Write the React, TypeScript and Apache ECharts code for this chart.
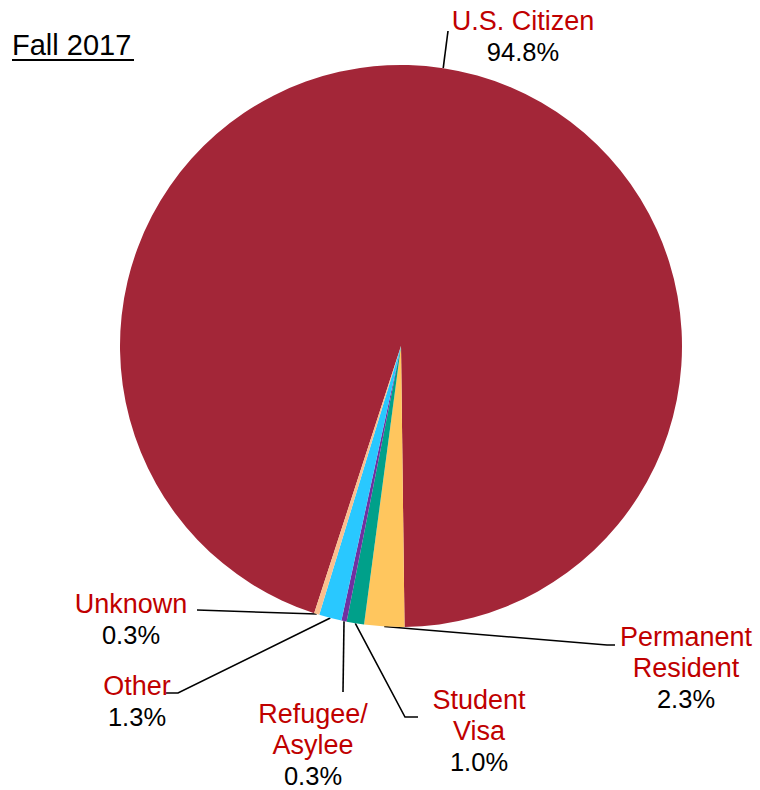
import React, { useEffect, useRef } from "react";
import * as echarts from "echarts";

const categories = ["U.S. Citizen", "Permanent Resident", "Student Visa", "Refugee/Asylee", "Other", "Unknown"];
const displayNames = [["U.S. Citizen"], ["Permanent", "Resident"], ["Student", "Visa"], ["Refugee/", "Asylee"], ["Other"], ["Unknown"]];
const values = [94.8, 2.3, 1.0, 0.3, 1.3, 0.3];
const colors = ["#A32638", "#FFC65E", "#00A08A", "#7030A0", "#29C8FF", "#FBBF8E"];

// label layout (positions only)
const labelCenters = [
  [523, 36],
  [686, 668],
  [479, 731],
  [313, 745],
  [137, 701],
  [131, 619],
];
const leaderTails: number[][][] = [
  [[448, 31]],
  [[607, 645], [615, 645]],
  [[405, 717], [418, 717]],
  [[343, 692]],
  [[178, 693], [166, 693]],
  [[197, 610]],
];

export default function App() {
  const ref = useRef<HTMLDivElement>(null);
  useEffect(() => {
    document.body.style.margin = "0";
    const chart = echarts.init(ref.current!, null, { renderer: "svg" });
    const font = "'Liberation Sans', Arial, sans-serif";
    chart.setOption({
      animation: false,
      backgroundColor: "#ffffff",
      textStyle: { fontFamily: font },
      graphic: [
        {
          type: "text",
          left: 12,
          top: 30,
          style: { text: "Fall 2017", fontSize: 29, fill: "#000", fontFamily: font },
        },
        {
          type: "rect",
          shape: { x: 12, y: 59, width: 122, height: 2 },
          style: { fill: "#000" },
        },
      ],
      series: [
        {
          type: "pie",
          center: [401, 346],
          radius: 281,
          startAngle: -108,
          clockwise: true,
          avoidLabelOverlap: false,
          itemStyle: { borderWidth: 0 },
          data: categories.map((c, i) => ({ name: c, value: values[i], itemStyle: { color: colors[i] } })),
          label: {
            show: true,
            position: "outside",
            fontFamily: font,
            lineHeight: 31,
            formatter: (p: any) => {
              const lines = displayNames[p.dataIndex].map((s) => `{n|${s}}`);
              lines.push(`{p|${values[p.dataIndex].toFixed(1)}%}`);
              return lines.join("\n");
            },
            rich: {
              n: { color: "#C00000", fontSize: 27, lineHeight: 31, fontFamily: font, align: "center" },
              p: { color: "#000000", fontSize: 25.5, lineHeight: 31, fontFamily: font, align: "center" },
            },
          },
          labelLine: {
            show: true,
            length: 20,
            length2: 10,
            lineStyle: { color: "#000", width: 1.6 },
          },
          labelLayout: (params: any) => {
            const i = params.dataIndex;
            const c = labelCenters[i];
            const p0 = params.labelLinePoints && params.labelLinePoints[0];
            const out: any = { x: c[0], y: c[1], align: "center", verticalAlign: "middle" };
            if (p0) out.labelLinePoints = [p0, ...leaderTails[i]];
            return out;
          },
          emphasis: { disabled: true },
        },
      ],
    });
    return () => chart.dispose();
  }, []);
  return <div ref={ref} style={{ width: 760, height: 790 }} />;
}
